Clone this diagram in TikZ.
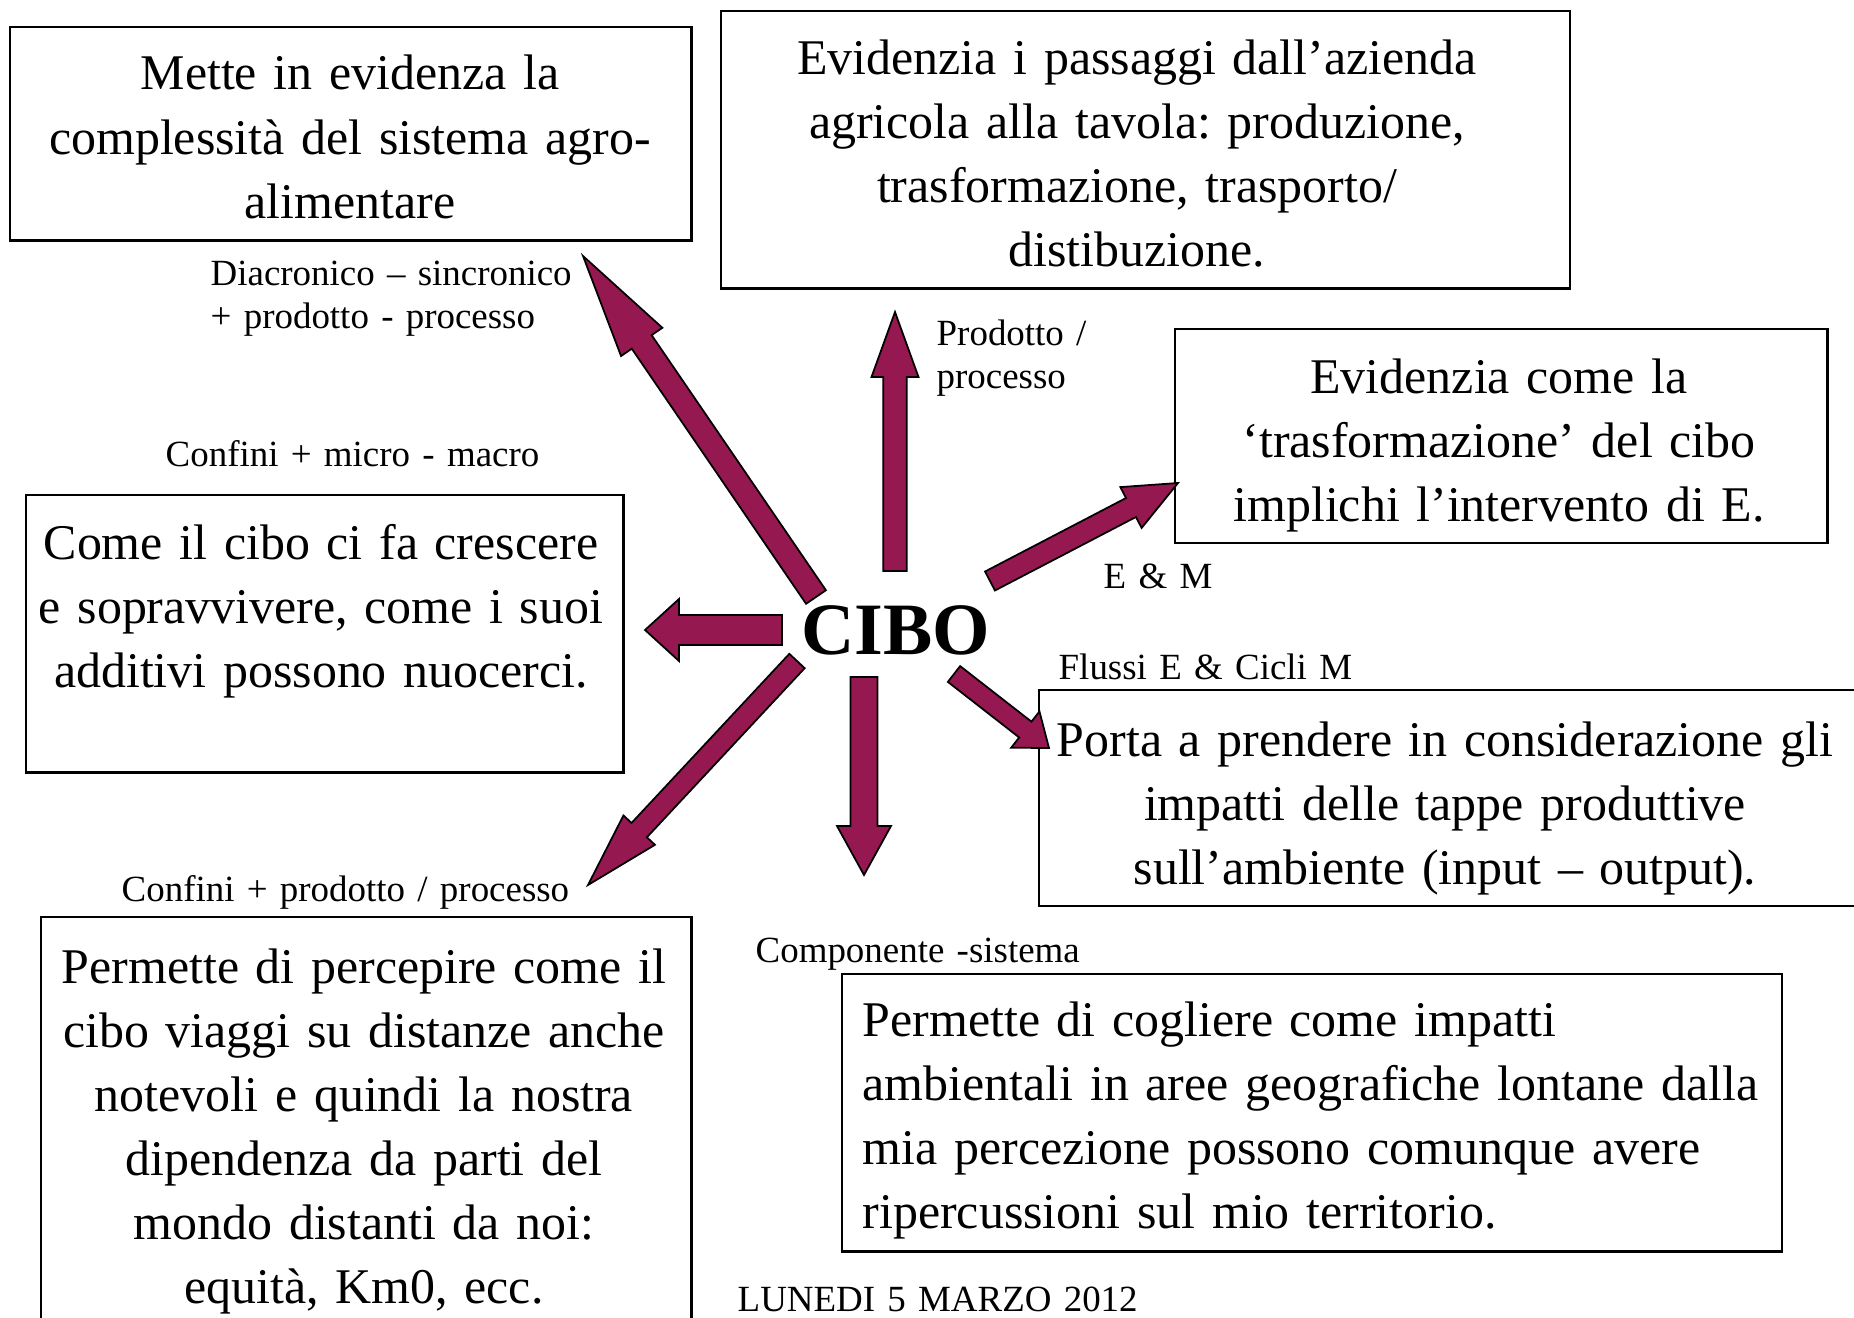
\documentclass[tikz,border=0pt]{standalone}
\usepackage{fontspec}
\setmainfont{Liberation Serif}
\usetikzlibrary{calc}

\definecolor{cibored}{RGB}{150,24,80}

\tikzset{
  box/.style={draw=black, line width=0.7pt, anchor=north west, inner sep=0pt},
  maintext/.style={font=\fontsize{14.2}{18.2}\selectfont\frenchspacing, anchor=base, align=center, inner sep=0pt},
  lefttext/.style={font=\fontsize{14.2}{18.2}\selectfont\frenchspacing, anchor=base west, align=left, inner sep=0pt},
  lbl/.style={font=\fontsize{10.5}{12.5}\selectfont\frenchspacing, anchor=base west, align=left, inner sep=0pt, text width=5cm},
  blockarrow/.style={fill=cibored, draw=black, line width=0.5pt, line join=miter},
}

% tail, tip, half shaft, half head, head length
\newcommand{\freccia}[5]{%
  \coordinate (fh) at ($(#2)!#5!(#1)$);
  \filldraw[blockarrow] ($(#1)!#3!90:(#2)$) -- ($(fh)!#3!90:(#2)$) -- ($(fh)!#4!90:(#2)$)
    -- (#2) -- ($(fh)!#4!-90:(#2)$) -- ($(fh)!#3!-90:(#2)$) -- ($(#1)!#3!-90:(#2)$) -- cycle;
}

\begin{document}
\begin{tikzpicture}[x=0.01cm, y=-0.01cm]
  \useasboundingbox (0,0) rectangle (1854,1318);
  \clip (0,0) rectangle (1854,1318);

  % boxes
  \node[box, minimum width=6.81cm, minimum height=2.13cm] (bxcomplex) at (9,26) {};
  \node[box, minimum width=8.48cm, minimum height=2.775cm] (bxfarm) at (720,9.5) {};
  \node[box, minimum width=6.52cm, minimum height=2.14cm] (bxtrans) at (1174,327.5) {};
  \node[box, minimum width=5.97cm, minimum height=2.77cm] (bxgrow) at (25,494) {};
  \node[box, minimum width=8.5cm, minimum height=2.155cm] (bximpact) at (1038,689) {};
  \node[box, minimum width=6.5cm, minimum height=4.5cm] (bxtravel) at (40,916) {};
  \node[box, minimum width=9.39cm, minimum height=2.77cm] (bxfar) at (841,973) {};

  % box texts
  \node[maintext, text width=6.6cm] (txcomplex) at (350,90)
    {Mette in evidenza la\\complessità del sistema agro-\\alimentare};
  \node[maintext, text width=8.3cm] (txfarm) at (1137,74)
    {Evidenzia i passaggi dall’azienda\\agricola alla tavola: produzione,\\trasformazione, trasporto/\\distibuzione.};
  \node[maintext, text width=6.4cm] (txtrans) at (1499,393)
    {Evidenzia come la\\‘trasformazione’ del cibo\\implichi l’intervento di E.};
  \node[maintext, text width=5.8cm] (txgrow) at (321,559)
    {Come il cibo ci fa crescere\\e sopravvivere, come i suoi\\additivi possono nuocerci.};
  \node[maintext, text width=8.1cm] (tximpact) at (1445,756)
    {Porta a prendere in considerazione gli\\impatti delle tappe produttive\\sull’ambiente (input – output).};
  \node[maintext, text width=6.4cm] (txtravel) at (364,983)
    {Permette di percepire come il\\cibo viaggi su distanze anche\\notevoli e quindi la nostra\\dipendenza da parti del\\mondo distanti da noi:\\equità, Km0, ecc.};
  \node[lefttext, text width=9.2cm] (txfar) at (862,1036)
    {Permette di cogliere come impatti\\ambientali in aree geografiche lontane dalla\\mia percezione possono comunque avere\\ripercussioni sul mio territorio.};

  % centre
  \node[font=\fontsize{21}{24}\selectfont\bfseries, inner sep=0pt] (cibo) at (896,630) {CIBO};

  % arrow ends
  \coordinate (aUL) at (816,597);  \coordinate (tUL) at (583,256);
  \coordinate (aU)  at (895,571);  \coordinate (tU)  at (895,312);
  \coordinate (aUR) at (990,581);  \coordinate (tUR) at (1178,483);
  \coordinate (aL)  at (782,630);  \coordinate (tL)  at (645,630);
  \coordinate (aLR) at (954,674);  \coordinate (tLR) at (1049,748);
  \coordinate (aD)  at (864,677);  \coordinate (tD)  at (864,875);
  \coordinate (aLL) at (797,661);  \coordinate (tLL) at (588,885);

  \freccia{aUL}{tUL}{0.12cm}{0.25cm}{1.04cm}
  \freccia{aU}{tU}{0.117cm}{0.235cm}{0.65cm}
  \freccia{aUR}{tUR}{0.107cm}{0.23cm}{0.53cm}
  \freccia{aL}{tL}{0.15cm}{0.31cm}{0.34cm}
  \freccia{aLR}{tLR}{0.1cm}{0.23cm}{0.30cm}
  \freccia{aD}{tD}{0.135cm}{0.27cm}{0.49cm}
  \freccia{aLL}{tLL}{0.105cm}{0.215cm}{0.75cm}

  % labels
  \node[lbl] (lbdiac) at (210,285) {Diacronico – sincronico\\+ prodotto - processo};
  \node[lbl] (lbprod) at (936,345) {Prodotto /\\processo};
  \node[lbl] (lbmicro) at (165,466) {Confini + micro - macro};
  \node[lbl] (lbem) at (1103,588) {E \& M};
  \node[lbl] (lbflux) at (1058,679) {Flussi E \& Cicli M};
  \node[lbl] (lbconf) at (121,901) {Confini + prodotto / processo};
  \node[lbl] (lbcomp) at (755,962) {Componente -sistema};
  \node[lbl] (lbdate) at (737,1311) {LUNEDI 5 MARZO 2012};
\end{tikzpicture}
\end{document}
